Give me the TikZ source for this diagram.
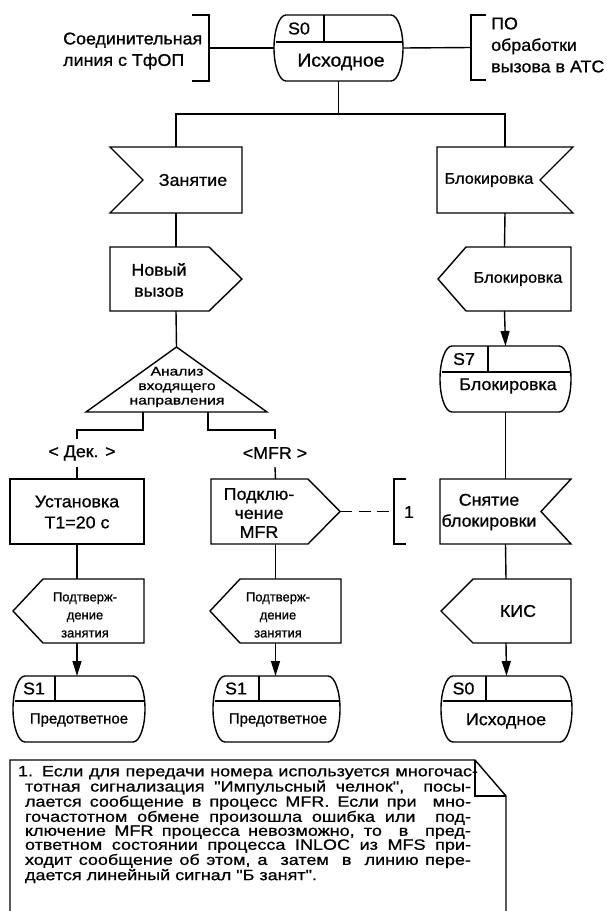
\documentclass[tikz,border=0pt]{standalone}
\usepackage{fontspec}
\setmainfont{Liberation Sans}[FakeStretch=1.05,FakeBold=0.8]
\newfontfamily\plainfont{Liberation Sans}[FakeBold=0.9]
\newfontfamily\notefont{Liberation Sans}[FakeStretch=1.2,FakeBold=0.8]
\newfontfamily\trifont{Liberation Sans}[FakeStretch=1.25,FakeBold=0.9]
\usetikzlibrary{arrows.meta,fit}
\tikzset{
  ln/.style={line width=1.4pt},
  arr/.style={line width=1.4pt,-{Triangle[length=15pt,width=9pt]}},
  dsh/.style={line width=1.4pt,dash pattern=on 12pt off 6.5pt},
  lab/.style={font=\fontsize{17}{21}\selectfont,align=center,inner sep=0pt},
  labb/.style={font=\fontsize{15.5}{21}\selectfont,align=center,inner sep=0pt},
  labn/.style={font=\fontsize{17}{19}\selectfont,align=center,inner sep=0pt},
  labl/.style={font=\fontsize{17}{21.5}\selectfont,align=left,inner sep=0pt},
  sml/.style={font=\plainfont\fontsize{13}{18}\selectfont,align=center,inner sep=0pt},
  pre/.style={font=\plainfont\fontsize{15}{18}\selectfont,inner sep=0pt},
  tril/.style={font=\trifont\fontsize{12.5}{14.5}\selectfont,align=center,inner sep=0pt},
  frm/.style={inner sep=0pt,outer sep=0pt},
}
% state symbol: name L T R B D V S
\newcommand\stbox[8]{%
  \node[frm,fit={(#2,#3) (#4,#5)}] (#1) {};
  \draw[ln] (#2+12,#3) -- (#4-12,#3)
    .. controls (#4-5.4,#3) and (#4,{(#3+#5)/2-0.276*(#5-#3)}) .. (#4,{(#3+#5)/2})
    .. controls (#4,{(#3+#5)/2+0.276*(#5-#3)}) and (#4-5.4,#5) .. (#4-12,#5) -- (#2+12,#5)
    .. controls (#2+5.4,#5) and (#2,{(#3+#5)/2+0.276*(#5-#3)}) .. (#2,{(#3+#5)/2})
    .. controls (#2,{(#3+#5)/2-0.276*(#5-#3)}) and (#2+5.4,#3) .. cycle;
  \draw[ln] (#2+1.5,#6) -- (#4-1.5,#6) (#7,#3) -- (#7,#6);
  \node[lab] (#1-s) at ({(#2+#7)/2},{(#3+#6)/2}) {#8};
}
% input, notch left: name L T R B d
\newcommand\inL[6]{%
  \node[frm,fit={(#2,#3) (#4,#5)}] (#1) {};
  \draw[ln] (#2,#3) -- (#4,#3) -- (#4,#5) -- (#2,#5) -- (#2+#6,{(#3+#5)/2}) -- cycle;
}
% input, notch right
\newcommand\inR[6]{%
  \node[frm,fit={(#2,#3) (#4,#5)}] (#1) {};
  \draw[ln] (#2,#3) -- (#4,#3) -- (#4-#6,{(#3+#5)/2}) -- (#4,#5) -- (#2,#5) -- cycle;
}
% output, pointing right
\newcommand\outR[6]{%
  \node[frm,fit={(#2,#3) (#4,#5)}] (#1) {};
  \draw[ln] (#2,#3) -- (#4-#6,#3) -- (#4,{(#3+#5)/2}) -- (#4-#6,#5) -- (#2,#5) -- cycle;
}
% output, pointing left
\newcommand\outL[6]{%
  \node[frm,fit={(#2,#3) (#4,#5)}] (#1) {};
  \draw[ln] (#2+#6,#3) -- (#4,#3) -- (#4,#5) -- (#2+#6,#5) -- (#2,{(#3+#5)/2}) -- cycle;
}
\begin{document}
\begin{tikzpicture}[x=1pt,y=-1pt]
\useasboundingbox (0,0) rectangle (606,911);
\fill[white] (0,0) rectangle (606,911);

% ---- top state and comments
\stbox{s0}{274}{15}{403}{81}{42}{324}{S0}
\node[lab,font=\fontsize{18.5}{21}\selectfont] (s0t) at (341,62) {Исходное};

\node[frm,fit={(192,15) (209,81)}] (cL) {};
\draw[ln] (192,15) -- (209,15) -- (209,81) -- (192,81);
\node[labl,anchor=west] (cLt) at (63,51) {Соединительная\\линия с ТфОП};
\draw[ln] (cL.east) -- (s0.west);

\node[frm,fit={(471,15) (486,80)}] (cR) {};
\draw[ln] (486,15) -- (471,15) -- (471,80) -- (486,80);
\node[labl,anchor=west] (cRt) at (491,45) {ПО\\обработки\\вызова в АТС};
\draw[ln] (s0.east) -- (cR.west);

% ---- left branch
\inL{zan}{110}{147}{242}{213}{33}
\node[lab] (zant) at (193,180) {Занятие};
\outR{nv}{110}{247}{242}{311}{33}
\node[lab] (nvt) at (159,280) {Новый\\вызов};

\node[frm,fit={(86,347) (267,412)}] (tri) {};
\draw[ln] (tri.north) -- (tri.south east) -- (tri.south west) -- cycle;
\node[tril] (trit) at (177,387) {Анализ\\входящего\\направления};
\coordinate (tb1) at (143,412);
\coordinate (tb2) at (208,412);

\node[frm,draw,ln,fit={(10,479) (144,544)}] (ust) {};
\node[lab] (ustt) at (77,512) {Установка\\T1=20 с};
\outR{podk}{211}{479}{340}{544}{32}
\node[labn] (podkt) at (259,513) {Подклю-\\чение\\MFR};

\node[lab,minimum height=28pt] (dek) at (82,453) {< Дек. >};
\node[lab,minimum height=28pt] (mfr) at (275,453) {<MFR >};

\node[frm,fit={(394,479) (406,544)}] (c1) {};
\draw[ln] (406,479) -- (394,479) -- (394,544) -- (406,544);
\node[lab] (c1t) at (409,512) {1};

\outL{pa}{13}{579}{144}{643}{30}
\node[sml] (pat) at (85,615) {Подтверж-\\дение\\занятия};
\outL{pb}{210}{579}{341}{643}{30}
\node[sml] (pbt) at (278,615) {Подтверж-\\дение\\занятия};

\stbox{s1a}{13}{676}{145}{742}{701}{55}{S1}
\node[pre] (s1at) at (79,720) {Предответное};
\stbox{s1b}{213}{676}{340}{742}{701}{259}{S1}
\node[pre] (s1bt) at (278,720) {Предответное};

% ---- right branch
\inR{blk}{437}{147}{573}{213}{33}
\node[labb] (blkt) at (489,180) {Блокировка};
\outL{blk2}{438}{247}{571}{311}{28}
\node[labb] (blk2t) at (518,279) {Блокировка};
\stbox{s7}{440}{346}{571}{412}{372}{488}{S7}
\node[lab] (s7t) at (508,386) {Блокировка};
\inR{sn}{440}{479}{571}{544}{30}
\node[lab] (snt) at (489,512) {Снятие\\блокировки};
\outL{kis}{441}{579}{571}{643}{32}
\node[lab] (kist) at (518,611) {КИС};
\stbox{s0b}{441}{676}{572}{742}{701}{486}{S0}
\node[lab] (s0bt) at (506,721) {Исходное};

% ---- connectors
\path (s0.south) ++(0,33) coordinate (j0);
\draw[ln] (s0.south) -- (j0) -| (zan.north);
\draw[ln] (j0) -| (blk.north);
\draw[ln] (zan.south) -- (nv.north);
\draw[ln] (nv.south) -- (tri.north);
\draw[ln] (tb1) -- ++(0,18) -| (dek.north -| ust.north);
\draw[ln] (dek.south -| ust.north) -- (ust.north);
\draw[ln] (tb2) -- ++(0,18) -| (mfr.north);
\draw[ln] (mfr.south) -- (podk.north);
\draw[dsh] (podk.east) -- (c1.west);
\draw[ln] (ust.south) -- (ust.south |- pa.north);
\draw[arr] (ust.south |- pa.south) -- (ust.south |- s1a.north);
\draw[ln] (podk.south) -- (podk.south |- pb.north);
\draw[arr] (podk.south |- pb.south) -- (podk.south |- s1b.north);

\draw[ln] (blk.south) -- (blk2.north);
\draw[arr] (blk2.south) -- (s7.north);
\draw[ln] (s7.south) -- (sn.north);
\draw[ln] (sn.south) -- (kis.north);
\draw[arr] (kis.south) -- (s0b.north);

% ---- note
\node[frm,fit={(10,760) (506,911)}] (note) {};
\draw[ln] (10,913) -- (10,760) -- (475,760) -- (506,796) -- (506,913);
\draw[ln] (475,760) -- (475,796) -- (506,796);
\node[frm,anchor=north west,font=\notefont\fontsize{15}{14}\selectfont,align=left] (notet) at (18,766) {%
\makebox[460pt][s]{1. Если для передачи номера используется многочас-}\\
\hspace*{7pt}\makebox[446pt][s]{тотная сигнализация "Импульсный челнок",\ \ посы-}\\
\hspace*{7pt}\makebox[446pt][s]{лается сообщение в процесс MFR. Если при\ \ мно-}\\
\hspace*{7pt}\makebox[446pt][s]{гочастотном обмене произошла ошибка или\ \ под-}\\
\hspace*{7pt}\makebox[446pt][s]{ключение MFR процесса невозможно, то\ \ в\ \ пред-}\\
\hspace*{7pt}\makebox[446pt][s]{ответном состоянии процесса INLOC из MFS при-}\\
\hspace*{7pt}\makebox[446pt][s]{ходит сообщение об этом, а\ \ затем\ \ в\ \ линию пере-}\\
\hspace*{7pt}дается линейный сигнал "Б занят".};
\end{tikzpicture}
\end{document}
